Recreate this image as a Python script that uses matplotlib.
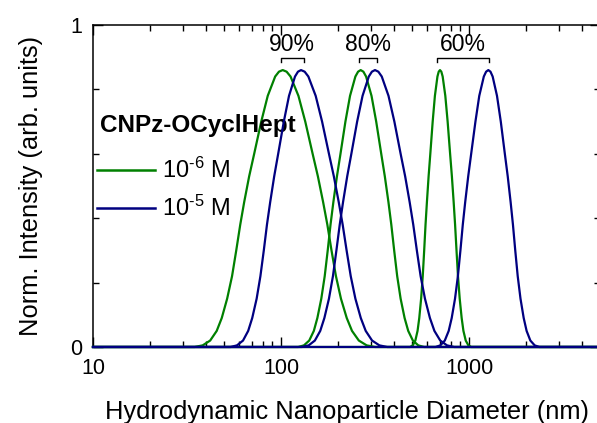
import matplotlib
matplotlib.use('Agg')
import matplotlib.pyplot as plt
from matplotlib.lines import Line2D
from matplotlib.ticker import ScalarFormatter, NullFormatter, LogLocator

plt.rcParams['font.family'] = ['Liberation Sans', 'DejaVu Sans']
plt.rcParams['mathtext.fontset'] = 'custom'
plt.rcParams['mathtext.rm'] = 'Liberation Sans'
plt.rcParams['mathtext.it'] = 'Liberation Sans:italic'
plt.rcParams['mathtext.bf'] = 'Liberation Sans:bold'

# intensity levels read along each peak (left foot -> top -> right foot)
levels = [0, 0.005, 0.02, 0.05, 0.09, 0.15, 0.22, 0.30, 0.38, 0.45, 0.53, 0.60, 0.70, 0.78, 0.84, 0.855,
          0.86,
          0.855, 0.84, 0.78, 0.70, 0.60, 0.53, 0.45, 0.38, 0.30, 0.22, 0.15, 0.09, 0.05, 0.02, 0.005, 0]

# diameters (nm) where each peak crosses those levels
# 10^-6 M (green)
green_p1 = [34.7, 38.3, 42.0, 45.5, 48.4, 51.7, 54.9, 57.8, 60.7, 63.7, 67.7, 72.0, 78.5, 85.0, 93.1, 97.5,
            102.1,
            107.1, 112.4, 123.8, 134.6, 147.3, 157.1, 167.5, 176.4, 185.6, 196.0, 208.4, 223.7, 238.6, 259.4, 285.6, 316.6]
green_p2 = [123.4, 132.4, 141.3, 149.5, 156.1, 163.8, 170.8, 177.2, 183.4, 189.9, 198.4, 207.2, 220.1, 232.9, 248.7, 257.0,
            265.4,
            274.3, 283.5, 303.0, 320.9, 341.3, 356.6, 372.8, 386.1, 399.9, 415.0, 432.8, 454.4, 475.0, 502.9, 537.4, 576.7]
green_p3 = [485.9, 502.3, 518.3, 532.5, 543.8, 556.3, 567.5, 577.6, 587.2, 597.2, 609.7, 622.6, 640.9, 658.6, 679.4, 690.1,
            701.0,
            712.6, 724.3, 748.2, 769.7, 793.4, 810.9, 828.7, 843.3, 858.1, 873.8, 892.4, 914.0, 934.0, 960.7, 992.7, 1028]
# 10^-5 M (blue)
blue_p1 = [53.9, 58.3, 62.8, 66.9, 70.3, 74.2, 77.7, 81.0, 84.2, 87.6, 92.0, 96.6, 103.5, 110.3, 118.7, 123.1,
           127.8,
           133.6, 139.8, 152.9, 165.4, 179.9, 191.0, 202.8, 212.8, 223.3, 234.9, 248.7, 265.7, 282.2, 305.1, 333.7, 367.4]
blue_p2 = [129.3, 140.3, 151.4, 161.7, 170.1, 179.9, 188.9, 197.1, 205.3, 213.8, 225.0, 236.7, 254.1, 271.5, 293.1, 304.4,
           316.2,
           329.5, 343.5, 373.1, 400.9, 432.8, 457.5, 483.4, 505.2, 527.9, 552.9, 583.1, 619.6, 654.6, 703.1, 763.8, 834.2]
blue_p3 = [663.5, 703.7, 743.5, 779.8, 809.1, 842.6, 872.8, 900.3, 926.8, 954.5, 990.4, 1027, 1082, 1134, 1199, 1233,
           1267,
           1301, 1336, 1409, 1476, 1551, 1607, 1665, 1713, 1762, 1816, 1879, 1954, 2025, 2120, 2236, 2367]

# brackets over the peak pairs
bracket_left = [100, 260, 678]
bracket_right = [132, 323, 1276]
bracket_text = ['90%', '80%', '60%']

x_min, x_max = 10, 5000
green = '#008000'
blue = '#000080'

fig = plt.figure(figsize=(5.97, 4.23), dpi=100)
ax = fig.add_axes([0.1558, 0.1797, 0.8499, 0.7612])

for d in [green_p1, green_p2, green_p3]:
    ax.plot([x_min] + d + [x_max], [0] + levels + [0], color=green, lw=1.6, clip_on=False, zorder=3)
for d in [blue_p1, blue_p2, blue_p3]:
    ax.plot([x_min] + d + [x_max], [0] + levels + [0], color=blue, lw=1.6, clip_on=False, zorder=4)

for xl, xr, t in zip(bracket_left, bracket_right, bracket_text):
    ax.plot([xl, xl, xr, xr], [0.886, 0.898, 0.898, 0.886], color='black', lw=1.0)
    ax.text((xl * xr) ** 0.5, 0.905, t, ha='center', va='bottom', fontsize=16.5)

ax.set_xscale('log')
ax.set_xlim(x_min, x_max)
ax.set_ylim(0, 1)
ax.xaxis.set_major_locator(LogLocator(base=10))
ax.xaxis.set_major_formatter(ScalarFormatter())
ax.xaxis.set_minor_locator(LogLocator(base=10, subs=range(2, 10)))
ax.xaxis.set_minor_formatter(NullFormatter())
ax.set_yticks([0, 1])
ax.set_yticklabels(['0', '1'])
ax.set_yticks([0.2, 0.4, 0.6, 0.8], minor=True)

ax.tick_params(which='both', direction='in', top=True, right=True, width=1, labelsize=15.5)
ax.tick_params(which='major', length=7, pad=8)
ax.tick_params(which='minor', length=4)
for s in ax.spines.values():
    s.set_linewidth(1.1)

ax.set_xlabel('Hydrodynamic Nanoparticle Diameter (nm)', fontsize=18.4, labelpad=15)
ax.set_ylabel('Norm. Intensity (arb. units)', fontsize=18.4, labelpad=19)

# legend: bold title as text, entries as a legend
ax.text(0.014, 0.689, 'CNPz-OCyclHept', transform=ax.transAxes, fontsize=17.5,
        fontweight='bold', ha='left', va='center')
handles = [Line2D([], [], color=green, lw=1.8), Line2D([], [], color=blue, lw=1.8)]
ax.legend(handles, [r'10$^{\text{-6}}$ M', r'10$^{\text{-5}}$ M'],
          fontsize=17, loc='center left', bbox_to_anchor=(0.008, 0.489),
          frameon=False, handlelength=2.45, handletextpad=0.3,
          labelspacing=0.52, borderpad=0, borderaxespad=0)

fig.savefig('out.png', dpi=100)
